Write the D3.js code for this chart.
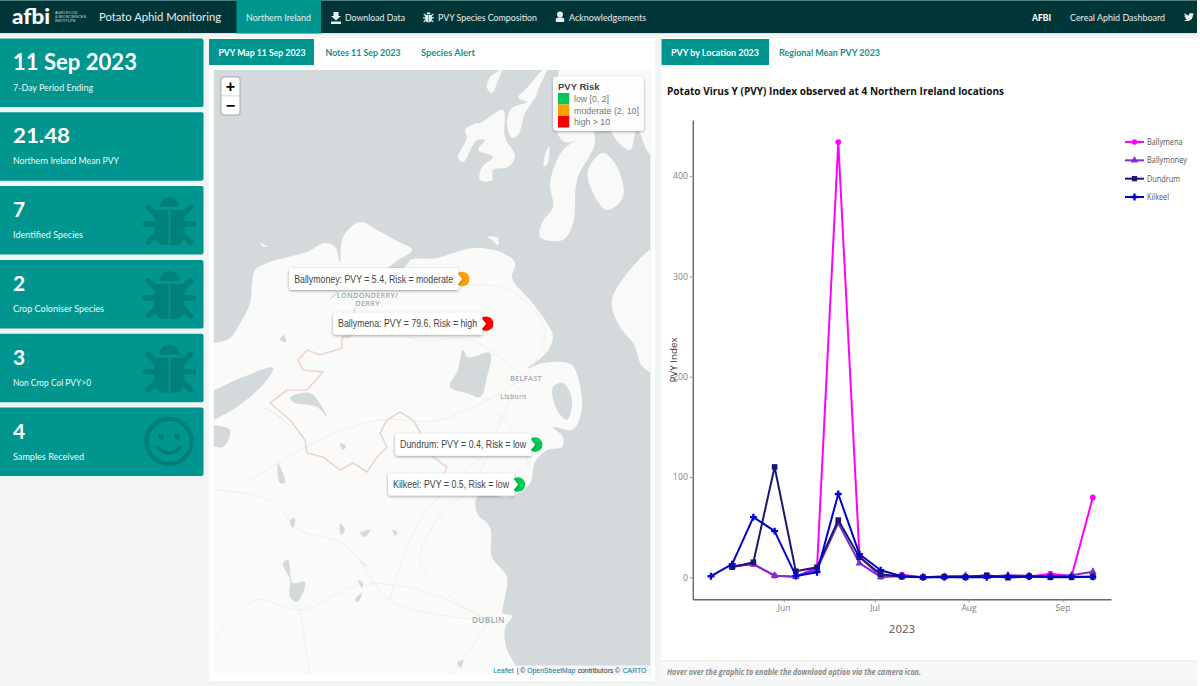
<!DOCTYPE html>
<html><head><meta charset="utf-8">
<script src="https://cdnjs.cloudflare.com/ajax/libs/d3/7.8.5/d3.min.js"></script>
<style>html,body{margin:0;padding:0;background:#f3f4f4;overflow:hidden}svg{display:block}</style>
</head><body><svg id="page" width="1200" height="686"></svg>
<script>
// ---------- chart data ----------
const weeks = ["2023-05-08","2023-05-15","2023-05-22","2023-05-29","2023-06-05","2023-06-12","2023-06-19","2023-06-26","2023-07-03","2023-07-10","2023-07-17","2023-07-24","2023-07-31","2023-08-07","2023-08-14","2023-08-21","2023-08-28","2023-09-04","2023-09-11"];
const ballymena  = [null,11,13,1.5,0.5,10,434,21,0.5,2.5,0,1,1,1.5,0,0.5,3.5,1,79.6];
const ballymoney = [null,11,13,1.5,0.5,8,54,14,0.3,1,0,0.5,1.5,0.5,2,1.5,1,2,5.4];
const dundrum    = [null,10,15,110,6,10,57,20,3,0.5,0,0.5,0,2,-0.5,1,0,0,0.4];
const kilkeel    = [1,13,60,46,1.3,5,83,23,7,1,0,0,0,0,1,0.5,0.5,0.5,0.5];
const seriesNames = ["Ballymena","Ballymoney","Dundrum","Kilkeel"];
const seriesLabelLen = [35.5,40,33,22];
const seriesValues = [ballymena,ballymoney,dundrum,kilkeel];
const seriesColors = ["#ff00ff","#7a2fd6","#191970","#0000c8"];
const seriesSymbols = [d3.symbolCircle,d3.symbolTriangle,d3.symbolSquare,d3.symbolCross];
const yTicks = [0,100,200,300,400];
const monthTicks = ["2023-06-01","2023-07-01","2023-08-01","2023-09-01"];

const sites = ["Ballymoney","Ballymena","Dundrum","Kilkeel"];
const sitePVY = [5.4,79.6,0.4,0.5];
const siteRisk = ["moderate","high","low","low"];
const siteLabelLen = [159,139,126,116];
const siteLon = [-6.49,-6.28,-5.85,-6.0];
const siteLat = [55.1,54.875,54.26,54.055];
const riskLabels = ["low [0, 2]","moderate (2, 10]","high > 10"];
const riskLabelLen = [35,65,36];
const riskColors = {low:"#00c853",moderate:"#ffa000",high:"#f60000"};
const riskOrder = ["low","moderate","high"];
const places = [["LONDONDERRY/",-7.32,55.02],["DERRY",-7.32,54.98],["BELFAST",-5.93,54.6],["Lisburn",-6.04,54.51],["DUBLIN",-6.26,53.35]];
const attribution = ["Leaflet","| ©","OpenStreetMap","contributors ©","CARTO"];

const cardTitles = ["11 Sep 2023","21.48","7","2","3","4"];
const cardLabels = ["7-Day Period Ending","Northern Ireland Mean PVY","Identified Species","Crop Coloniser Species","Non Crop Col PVY>0","Samples Received"];
const cardLabelLen = [80,106,70,91,78,71];
const cardIcons = [null,null,"bug","bug","bug","smile"];

// ---------- base map outlines, in map-sheet units ----------
const ireland = [[200,345],[214,343],[230,338],[238,327],[250,303],[252,285],[255,270],[270,262],[288,257],[307,252],[325,243],[335,247],[340,262],[343,237],[360,222],[377,230],[395,240],[412,250],[395,262],[378,278],[395,276],[408,263],[410,260],[437,258],[463,250],[477,248],[503,253],[515,263],[512,278],[530,300],[547,323],[553,337],[547,352],[528,368],[543,363],[563,362],[572,365],[582,400],[578,423],[572,430],[553,427],[563,437],[562,447],[547,450],[535,462],[530,483],[510,497],[490,495],[477,497],[477,513],[490,527],[492,557],[507,577],[505,597],[503,613],[512,616],[505,628],[507,650],[515,665],[520,700],[200,700],[200,428],[214,420],[237,407],[267,380],[273,368],[243,377],[214,390],[200,395]];
const islands = [
 [[480,123],[503,110],[505,137],[515,157],[508,167],[493,170],[492,180],[480,180],[482,167],[493,157],[478,150],[485,140],[477,140],[463,162],[458,158],[467,137],[465,130],[477,123]],
 [[497,72],[502,68],[497,83],[492,93],[487,88],[490,77]],
 [[538,75],[548,66],[538,90],[535,98],[525,113],[518,135],[512,138],[507,123],[512,108],[527,102],[518,98],[527,88]],
 [[593,132],[577,140],[563,150],[550,183],[553,207],[542,223],[540,237],[563,240],[573,223],[577,180],[595,143]],
 [[588,170],[603,153],[617,167],[623,197],[607,210],[593,193]],
 [[556,110],[556,130],[565,142],[577,140],[593,132],[600,118],[604,60],[565,60]],
 [[612,133],[630,150],[637,130],[648,152],[660,165],[660,60],[610,60],[612,110]],
 [[612,300],[660,245],[660,375],[643,367],[633,343],[620,327]],
 [[487,237],[498,238],[498,245],[492,240]],
 [[260,243],[268,247],[262,246]],
 [[546,152],[549,146],[547,165],[544,166]]
];
const lakes = [
 [[463,350],[468,357],[490,353],[487,377],[480,397],[467,393],[450,387],[458,370]],
 [[553,387],[563,383],[572,400],[567,420],[557,410]],
 [[290,398],[310,393],[327,417],[317,407],[293,402]],
 [[263,407],[283,420],[297,433],[280,417]],
 [[278,463],[285,483],[280,483]],
 [[283,563],[288,560],[293,583],[305,582],[297,602],[290,597],[290,580]],
 [[360,533],[370,530],[365,537]],[[358,580],[363,583],[362,588]],[[355,600],[362,593],[358,602]],
 [[360,560],[368,568],[362,563]],[[392,530],[397,532],[396,536]],[[290,520],[295,518],[293,528]],
 [[340,523],[345,530],[341,535]],[[457,663],[463,660],[461,668]],[[330,300],[338,292],[332,296]],
 [[205,427],[230,430],[223,447],[205,440]],[[340,443],[346,446],[343,450]],[[280,340],[284,335],[286,342]]
];
const border = [[355,308],[350,337],[342,337],[342,348],[320,355],[307,350],[298,360],[303,370],[323,372],[307,390],[287,390],[270,403],[290,420],[305,440],[307,453],[323,457],[340,470],[353,463],[367,472],[377,457],[387,447],[380,433],[387,420],[400,412],[413,420],[423,437],[433,457],[447,467],[443,477]];
const roads = [
 [[526,378],[505,410],[490,450],[470,490],[445,510],[420,560],[455,600],[488,620]],
 [[488,620],[420,590],[360,585],[300,610],[255,600],[214,640]],
 [[488,620],[440,615],[390,600],[345,545],[300,530],[270,500],[214,490]],
 [[526,378],[470,340],[420,340],[370,325],[340,340]],
 [[526,378],[440,420],[380,420],[320,440],[250,480]],
 [[488,620],[470,650],[450,676]],[[300,610],[310,676]],[[480,395],[520,440],[530,470]],
 [[526,378],[545,330],[510,290],[470,285],[420,290]],[[390,600],[420,520],[490,450]]
];

// ---------- helpers ----------
const svg = d3.select("#page");
const LATO = "Lato, sans-serif", OPEN = "'Open Sans', sans-serif", ARIAL = "'Liberation Sans', Arial, sans-serif";
const TEAL = "#00968f";
function txt(p,s,x,y,o={}){
  const t=p.append("text").attr("x",x).attr("y",y).text(s)
   .attr("font-family",o.f||LATO).attr("font-size",o.s||10).attr("fill",o.c||"#000")
   .attr("font-weight",o.w||400).attr("text-anchor",o.a||"start").attr("font-style",o.i||"normal");
  if(o.ls) t.attr("letter-spacing",o.ls);
  if(o.len) t.attr("textLength",o.len).attr("lengthAdjust","spacingAndGlyphs");
  return t;
}
function rect(p,x,y,w,h,c,r){return p.append("rect").attr("x",x).attr("y",y).attr("width",w).attr("height",h).attr("fill",c).attr("rx",r||0);}
function bug(p,cx,cy,c,k=1){
  const g=p.append("g").attr("transform",`translate(${cx},${cy}) scale(${k})`).attr("fill",c);
  g.append("path").attr("d","M-10,-13A10,10 0 0 1 10,-13Z");
  g.append("path").attr("d","M-15,-10H-1V25H-6Q-15,25 -15,14Z");
  g.append("path").attr("d","M15,-10H1V25H6Q15,25 15,14Z");
  const legs=[[-21,-13,-13,-5],[21,-13,13,-5],[-24,4,-13,4],[24,4,13,4],[-21,22,-13,14],[21,22,13,14]];
  g.selectAll("line").data(legs).join("line").attr("x1",d=>d[0]).attr("y1",d=>d[1]).attr("x2",d=>d[2]).attr("y2",d=>d[3])
    .attr("stroke",c).attr("stroke-width",5.5).attr("stroke-linecap","round");
}
function smile(p,cx,cy,c){
  const g=p.append("g").attr("transform",`translate(${cx},${cy})`);
  g.append("circle").attr("r",22.5).attr("fill","none").attr("stroke",c).attr("stroke-width",4.5);
  g.append("circle").attr("cx",-8).attr("cy",-5).attr("r",3).attr("fill",c);
  g.append("circle").attr("cx",8).attr("cy",-5).attr("r",3).attr("fill",c);
  g.append("path").attr("d","M-11,6Q0,17 11,6").attr("fill","none").attr("stroke",c).attr("stroke-width",4).attr("stroke-linecap","round");
}

// ---------- page, navbar ----------
rect(svg,0,0,1200,686,"#f3f4f4");
rect(svg,1197,0,3,686,"#ffffff");
const nav=svg.append("g");
rect(nav,0,0,1197,33.5,"#013638");
rect(nav,0,0,1197,1,"#4f7f80");
rect(nav,0,33,1197,1.2,"#cfe6e4");
rect(nav,236.5,0,84.5,33.5,TEAL);
txt(nav,"afbi",12,24,{s:21,w:900,c:"#fff",len:38});
["AGRI-FOOD","& BIOSCIENCES","INSTITUTE"].forEach((s,i)=>txt(nav,s,55,14+i*4.2,{s:4,c:"#cfdcdc",f:ARIAL}));
txt(nav,"Potato Aphid Monitoring",99,21,{s:12.2,c:"#e8efef",len:122});
const navOpts={s:10,c:"#e8efef"};
txt(nav,"Northern Ireland",246,20.5,{...navOpts,len:65});
txt(nav,"Download Data",345,20.5,{...navOpts,len:60});
txt(nav,"PVY Species Composition",438,20.5,{...navOpts,len:99});
txt(nav,"Acknowledgements",569,20.5,{...navOpts,len:77});
txt(nav,"AFBI",1032,20.5,{s:10,w:900,c:"#fff",len:19});
txt(nav,"Cereal Aphid Dashboard",1070,20.5,{...navOpts,len:95});
nav.append("path").attr("d","M333.5,12H338.5V16H341L336,20.5L331,16H333.5ZM331,21.5H341V24H331Z").attr("fill","#e8efef");
bug(nav,428.5,17,"#e8efef",.21);
nav.append("circle").attr("cx",560).attr("cy",14.5).attr("r",3).attr("fill","#e8efef");
nav.append("path").attr("d","M555.8,22V19.5Q555.8,17.5 558,17.5H562Q564.2,17.5 564.2,19.5V22Z").attr("fill","#e8efef");
nav.append("path").attr("transform","translate(1184,12) scale(.0195)").attr("fill","#e8efef")
 .attr("d","M459.37 151.716c.325 4.548.325 9.097.325 13.645 0 138.72-105.583 298.558-298.558 298.558-59.452 0-114.68-17.219-161.137-47.106 8.447.974 16.568 1.299 25.34 1.299 49.055 0 94.213-16.568 130.274-44.832-46.132-.975-84.792-31.188-98.112-72.772 6.498.974 12.995 1.624 19.818 1.624 9.421 0 18.843-1.3 27.614-3.573-48.081-9.747-84.143-51.98-84.143-102.985v-1.299c13.969 7.797 30.214 12.67 47.431 13.319-28.264-18.843-46.781-51.005-46.781-87.391 0-19.492 5.197-37.36 14.294-52.954 51.655 63.675 129.3 105.258 216.365 109.807-1.624-7.797-2.599-15.918-2.599-24.04 0-57.828 46.782-104.934 104.934-104.934 30.213 0 57.502 12.67 76.67 33.137 23.715-4.548 46.456-13.32 66.599-25.34-7.798 24.366-24.366 44.833-46.132 57.827 21.117-2.273 41.584-8.122 60.426-16.243-14.292 20.791-32.161 39.308-52.628 54.253z");

// ---------- value cards ----------
const cardBand = d3.scaleLinear().domain([0,5]).range([38.5,407.5]);
const cards=svg.append("g");
cardTitles.forEach((t,i)=>{
  const y=cardBand(i), g=cards.append("g");
  rect(g,-3,y,206.5,68.5,TEAL,2);
  const o={s:i==0?23:21,w:700,c:"#fff"};
  if(i==0) o.len=124;
  if(i==1) o.len=57;
  txt(g,t,13,y+31,o);
  txt(g,cardLabels[i],13,y+52,{s:9.8,c:"#eef8f7",len:cardLabelLen[i]});
  const cy=y+34;
  if(cardIcons[i]=="bug") bug(g,169.5,cy,"#007f7b");
  if(cardIcons[i]=="smile") smile(g,169,cy,"#007f7b");
});

// ---------- panels and tabs ----------
rect(svg,209,38,446,643,"#ffffff");
rect(svg,661,38,536,643,"#ffffff");
rect(svg,661,661,536,20,"#f8f8f8");
rect(svg,661,660.5,536,.8,"#e4e4e4");
rect(svg,209,39,105,26,TEAL);
rect(svg,661.5,39,107.5,26,TEAL);
const tabO={s:9.7,w:700,c:"#fff"}, tabL={s:9.7,w:700,c:"#11908b"};
txt(svg,"PVY Map 11 Sep 2023",218.5,55.5,{...tabO,len:87});
txt(svg,"Notes 11 Sep 2023",325.5,55.5,{...tabL,len:75});
txt(svg,"Species Alert",421,55.5,{...tabL,len:54});
txt(svg,"PVY by Location 2023",671,55.5,{...tabO,len:88});
txt(svg,"Regional Mean PVY 2023",779,55.5,{...tabL,len:101});
txt(svg,"Hover over the graphic to enable the download option via the camera icon.",667,675,{s:7.9,w:700,i:"italic",c:"#8a8a8a",f:OPEN,len:254});

// ---------- map ----------
const defs=svg.append("defs");
defs.append("clipPath").attr("id","mapclip").append("rect").attr("x",214).attr("y",70).attr("width",436.5).attr("height",605);
const sh=defs.append("filter").attr("id","shadow").attr("x","-10%").attr("y","-30%").attr("width","120%").attr("height","170%");
sh.append("feDropShadow").attr("dx",0).attr("dy",1).attr("stdDeviation",1.4).attr("flood-color","#000").attr("flood-opacity",.38);
const map=svg.append("g").attr("clip-path","url(#mapclip)");
const mx=d3.scaleLinear().domain([214,651]).range([214,651]), my=d3.scaleLinear().domain([70,676]).range([70,676]);
const sheet=d3.line().x(d=>mx(d[0])).y(d=>my(d[1])).curve(d3.curveCatmullRomClosed.alpha(.6));
const open=d3.line().x(d=>mx(d[0])).y(d=>my(d[1])).curve(d3.curveCatmullRom.alpha(.5));
const proj=d3.geoMercator().scale(6532).center([-5.93,54.6]).translate([526,378]);
rect(map,214,70,437,606,"#d4dadc");
map.append("path").attr("d",sheet(ireland)).attr("fill","#fafaf8");
map.append("g").selectAll("path").data(islands).join("path").attr("d",d=>sheet(d)).attr("fill","#f9f9f7");
map.append("g").selectAll("path").data(roads).join("path").attr("d",d=>open(d)).attr("fill","none").attr("stroke","#efefed").attr("stroke-width",1);
map.append("g").selectAll("path").data(lakes).join("path").attr("d",d=>sheet(d)).attr("fill","#d4dadc");
map.append("path").attr("d",d3.line().x(d=>mx(d[0])).y(d=>my(d[1]))(border)).attr("fill","none").attr("stroke","#eed4d6").attr("stroke-width",1.6).attr("stroke-linejoin","round");
places.forEach(p=>{const q=proj([p[1],p[2]]);
  txt(map,p[0],q[0],q[1]+3,{s:p[0]=="Lisburn"?6.6:(p[0]=="DUBLIN"?8.2:7.2),c:"#9ba7b3",a:"middle",f:OPEN,w:600,ls:.35});});
// markers + labels
const labelLayer=svg.append("g");
sites.forEach((name,i)=>{
  const [px,py]=proj([siteLon[i],siteLat[i]]);
  labelLayer.append("circle").attr("cx",px).attr("cy",py).attr("r",7.3).attr("fill",riskColors[siteRisk[i]]);
});
sites.forEach((name,i)=>{
  const [px,py]=proj([siteLon[i],siteLat[i]]);
  const g=labelLayer.append("g");
  const w=siteLabelLen[i]+10, right=px-4, left=right-w;
  const t=txt(g,`${name}: PVY = ${sitePVY[i]}, Risk = ${siteRisk[i]}`,left+5,py+3.6,{s:10,f:ARIAL,c:"#444",len:siteLabelLen[i]});
  g.insert("path","text").attr("d",`M${left+3},${py-11}H${right}V${py-5}L${right+4},${py}L${right},${py+5}V${py+11}H${left+3}Q${left},${py+11} ${left},${py+8}V${py-8}Q${left},${py-11} ${left+3},${py-11}Z`)
    .attr("fill","#fff").attr("filter","url(#shadow)");
});
// zoom control
const zc=svg.append("g");
rect(zc,220.5,76.5,20,39,"#9a9a9a",3).attr("opacity",.75);
rect(zc,221.5,77.5,18,37,"#fff",2);
rect(zc,221.5,95.5,18,.8,"#ccc");
txt(zc,"+",230.5,92,{s:16,w:700,a:"middle",f:ARIAL});
txt(zc,"−",230.5,110.5,{s:16,w:700,a:"middle",f:ARIAL});
// legend
const lg=svg.append("g");
rect(lg,553,76.5,91,54.5,"#ffffff",4).attr("opacity",.86).attr("filter","url(#shadow)");
txt(lg,"PVY Risk",558,89.5,{s:9.5,w:700,f:ARIAL,c:"#444"});
const riskBand=d3.scaleBand().domain(riskOrder).range([93,127.5]);
riskOrder.forEach((r,i)=>{
  rect(lg,558,riskBand(r),11.2,riskBand.bandwidth(),riskColors[r]);
  txt(lg,riskLabels[i],574,riskBand(r)+9,{s:9.6,f:ARIAL,c:"#777",len:riskLabelLen[i]});
});
// attribution
const at=svg.append("g");
rect(at,491,665.5,159.5,9.5,"#ffffff").attr("opacity",.7);
const attrX=[493.3,516.7,527.3,577.7,622.7];
attribution.forEach((s,i)=>txt(at,s,attrX[i],673,{s:6.8,f:ARIAL,c:i%2?"#333":"#0078a8"}));

// ---------- line chart ----------
const parse=d3.utcParse("%Y-%m-%d");
const dates=weeks.map(parse);
const x=d3.scaleUtc().domain([Date.UTC(2023,4,2),Date.UTC(2023,8,17)]).range([692.8,1111]);
const y=d3.scaleLinear().domain([-22,456]).range([599.3,120]);
txt(svg,"Potato Virus Y (PVY) Index observed at 4 Northern Ireland locations",667,95,{s:10.9,w:700,f:OPEN,c:"#111",len:337});
const chart=svg.append("g");
const ax=chart.append("g").attr("transform","translate(0,599.3)").call(d3.axisBottom(x).tickValues(monthTicks.map(parse)).tickFormat(d3.utcFormat("%b")).tickSize(3).tickSizeOuter(0).tickPadding(3));
const ay=chart.append("g").attr("transform","translate(692.8,0)").call(d3.axisLeft(y).tickValues(yTicks).tickSize(3).tickSizeOuter(0).tickPadding(2));
[ax,ay].forEach(a=>{a.select(".domain").attr("stroke","#666").attr("stroke-width",1.4);
  a.selectAll(".tick line").attr("stroke","#999");
  a.selectAll("text").attr("font-family",OPEN).attr("font-size",8.6).attr("fill","#808080");});
txt(chart,"2023",902,633,{s:11.5,f:OPEN,c:"#555",a:"middle"});
chart.append("text").attr("transform","translate(676.5,360) rotate(-90)").attr("text-anchor","middle").text("PVY Index")
  .attr("font-family",OPEN).attr("font-size",9.8).attr("fill","#444");
const line=d3.line().x(d=>x(d.t)).y(d=>y(d.v));
seriesNames.forEach((n,i)=>{
  const pts=dates.map((t,k)=>({t,v:seriesValues[i][k]})).filter(d=>d.v!=null);
  const g=chart.append("g");
  g.append("path").attr("d",line(pts)).attr("fill","none").attr("stroke",seriesColors[i]).attr("stroke-width",2).attr("stroke-linejoin","round");
  g.selectAll("path.m").data(pts).join(e=>e.append("path").attr("class","m"))
   .attr("transform",d=>`translate(${x(d.t)},${y(d.v)})`)
   .attr("d",d3.symbol().type(seriesSymbols[i]).size(i==3?26:i==2?32:26)()).attr("fill",seriesColors[i]);
});
const legendY=d3.scalePoint().domain(seriesNames).range([142,197]);
seriesNames.forEach((n,i)=>{
  const g=chart.append("g").attr("transform",`translate(0,${legendY(n)})`);
  g.append("line").attr("x1",1125).attr("x2",1144).attr("stroke",seriesColors[i]).attr("stroke-width",2);
  g.append("path").attr("transform","translate(1134.5,0)").attr("d",d3.symbol().type(seriesSymbols[i]).size(i==3?26:i==2?28:24)()).attr("fill",seriesColors[i]);
  txt(g,n,1147,3,{s:8.2,f:OPEN,c:"#555",len:seriesLabelLen[i]});
});
</script></body></html>
